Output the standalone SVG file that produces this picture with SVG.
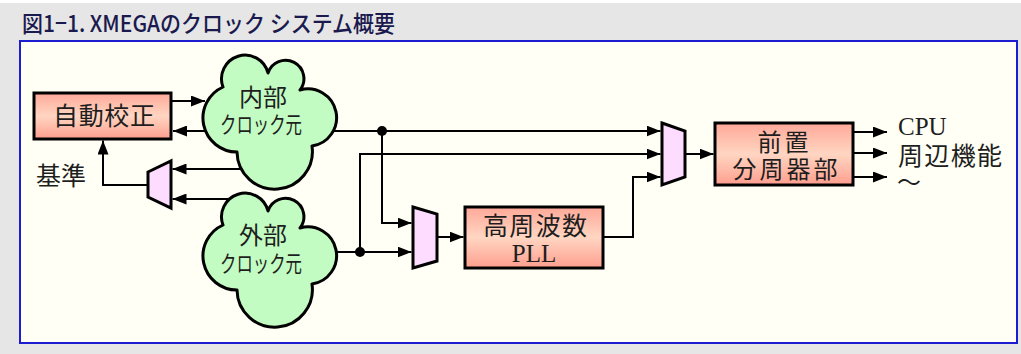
<svg xmlns="http://www.w3.org/2000/svg" xmlns:xlink="http://www.w3.org/1999/xlink" width="1021" height="354" viewBox="0 0 1021 354">
<style>
.conn{fill:none;stroke:#000;stroke-width:2}
.arr{marker-end:url(#ah)}
.box{stroke:#000;stroke-width:3;fill:url(#boxg)}
.mux{fill:#fddcff;stroke:#000;stroke-width:3;stroke-linejoin:miter}
.cloud{fill:#c2fcc2;stroke:#000;stroke-width:3;stroke-linejoin:round}
.jp{font-family:"Noto Sans CJK JP","Noto Sans CJK SC",sans-serif;fill:#1e1e1e}
.lat{font-family:"Liberation Serif",serif;fill:#1e1e1e}
.mid{text-anchor:middle}
</style>
<defs>
<linearGradient id="boxg" x1="0" y1="0" x2="0" y2="1">
<stop offset="0" stop-color="#ffa898"/>
<stop offset="0.5" stop-color="#ffd6c2"/>
<stop offset="1" stop-color="#ff9e8e"/>
</linearGradient>
<marker id="ah" markerUnits="userSpaceOnUse" markerWidth="14" markerHeight="11" refX="14" refY="5.5" orient="auto">
<path d="M0,0 L14,5.5 L0,11 Z" fill="#000"/>
</marker>
<path id="cloudshape" d="M223,87 A23.6 23.6 0 1 1 268,73 A18.4 18.4 0 1 1 300,90 A28.7 28.7 0 1 1 312,146 A37.7 37.7 0 1 1 237,152 A34 34 0 0 1 223,87 Z"/>
</defs>
<rect x="0" y="0" width="1021" height="354" fill="#e6e6e6"/>
<rect x="0" y="0" width="1021" height="3" fill="#ffffff"/>
<text x="22" y="32" font-family="'Noto Sans CJK JP','Noto Sans CJK SC',sans-serif" font-size="23" font-weight="500" fill="#1a1a4e" textLength="373" lengthAdjust="spacingAndGlyphs">図1−1. XMEGAのクロック システム概要</text>
<rect x="20" y="41" width="997" height="302" fill="#fffff5" stroke="#1c1cd0" stroke-width="2"/>

<g id="connectors">
<path class="conn arr" d="M172,101 H205"/>
<path class="conn arr" d="M210,131 H173"/>
<path class="conn arr" d="M245,169 H172.5"/>
<path class="conn arr" d="M232,199 H172.5"/>
<path class="conn arr" d="M148,185 H103 V140.5"/>
<path class="conn arr" d="M325,131 H660.5"/>
<path class="conn arr" d="M382,131 V223 H411.5"/>
<path class="conn arr" d="M330,252 H411.5"/>
<path class="conn arr" d="M360,252 V154 H660.5"/>
<path class="conn arr" d="M603,237 H633 V177 H660.5"/>
<path class="conn arr" d="M437,237 H463.5"/>
<path class="conn arr" d="M685,154 H713.5"/>
<path class="conn arr" d="M853,132 H887"/>
<path class="conn arr" d="M853,153 H887"/>
<path class="conn arr" d="M853,177 H887"/>
<circle cx="382" cy="131" r="5" fill="#000"/>
<circle cx="360" cy="252" r="5" fill="#000"/>
</g>

<g id="autocal">
<rect class="box" x="34" y="93" width="137" height="46"/>
<text class="jp mid" x="104" y="125" font-size="25" textLength="102" lengthAdjust="spacing">自動校正</text>
</g>
<g id="ref-label">
<text class="jp" x="36" y="185" font-size="25">基準</text>
</g>
<g id="ref-mux">
<polygon class="mux" points="148,172 171,161 171,208 148,197"/>
</g>
<g id="int-clock">
<use xlink:href="#cloudshape" class="cloud"/>
<text class="jp mid" x="263" y="106" font-size="24">内部</text>
<text class="jp mid" x="261" y="133" font-size="23" textLength="82" lengthAdjust="spacingAndGlyphs">クロック元</text>
</g>
<g id="ext-clock">
<use xlink:href="#cloudshape" class="cloud" transform="translate(0,138)"/>
<text class="jp mid" x="263" y="244" font-size="24">外部</text>
<text class="jp mid" x="261" y="272" font-size="23" textLength="82" lengthAdjust="spacingAndGlyphs">クロック元</text>
</g>
<g id="pll-mux">
<polygon class="mux" points="413,207 437,214 437,261 413,268"/>
</g>
<g id="pll">
<rect class="box" x="465" y="207" width="138" height="61"/>
<text class="jp mid" x="535" y="235" font-size="25" textLength="104" lengthAdjust="spacing">高周波数</text>
<text class="lat mid" x="534" y="262" font-size="25">PLL</text>
</g>
<g id="main-mux">
<polygon class="mux" points="662,123 685,131 685,177 662,185"/>
</g>
<g id="prescaler">
<rect class="box" x="715" y="123" width="138" height="62"/>
<text class="jp mid" x="783" y="151" font-size="24" textLength="51" lengthAdjust="spacing">前置</text>
<text class="jp mid" x="785" y="178" font-size="24" textLength="105" lengthAdjust="spacing">分周器部</text>
</g>
<g id="outputs">
<text class="lat" x="898" y="135" font-size="25">CPU</text>
<text class="jp" x="898" y="165" font-size="25" textLength="104" lengthAdjust="spacing">周辺機能</text>
<text class="jp" x="897" y="191" font-size="24">〜</text>
</g>
</svg>
